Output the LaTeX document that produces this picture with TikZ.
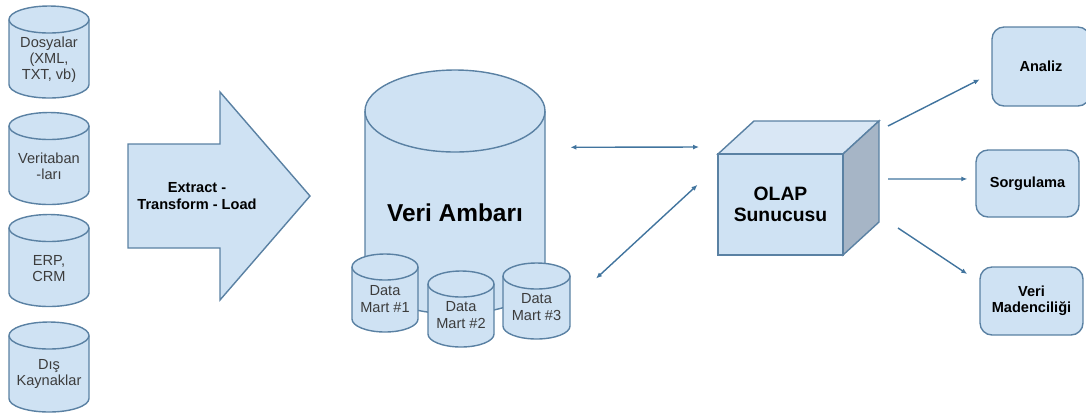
\documentclass[tikz,border=0pt]{standalone}
\usepackage{fontspec}
\setmainfont{Liberation Sans}
\usetikzlibrary{positioning, arrows.meta}
\definecolor{box_fill}{HTML}{CFE2F3}
\definecolor{top_fill}{HTML}{D9E7F5}
\definecolor{side_fill}{HTML}{A6B5C6}
\definecolor{box_line}{HTML}{5A81A3}
\definecolor{flow_line}{HTML}{41749E}
\definecolor{soft_text}{HTML}{3C3C3C}

% name, centre x, centre y, x radius, y radius, half height, text shift, text style, text
\newcommand{\dbcyl}[9]{
  \begin{scope}[shift={(#2, #3)}]
    \draw[shape_line] (-#4, -#6+#5) -- (-#4, #6-#5) arc (180:0:#4 and #5) -- (#4, -#6+#5) arc (0:-180:#4 and #5) -- cycle;
    \draw[draw=box_line, line width=0.8pt] (-#4, -#6+#5) arc (180:0:#4 and #5);
    \node[minimum width=2*#4*0.02cm, minimum height=2*#6*0.02cm, inner sep=0, align=center, #8] (#1) at (0, #7) {#9};
  \end{scope}
}

\begin{document}
\begin{tikzpicture}[
    x=0.02cm, y=-0.02cm,
    % Styles for shapes and text
    shape_line/.style = {
        draw=box_line,
        fill=box_fill,
        line width=0.8pt
    },
    plain_text/.style = {
        text=soft_text,
        font=\fontsize{8.3}{9.2}\selectfont
    },
    bold_text/.style = {
        font=\fontsize{8.3}{9.2}\selectfont\bfseries
    },
    tool_box/.style = {
        shape_line,
        rectangle,
        rounded corners=0.24cm,
        inner sep=0,
        align=center,
        bold_text
    },
    flow/.style = {
        draw=flow_line,
        line width=0.8pt,
        -{Latex[length=1.2mm,width=1mm]}
    },
    both_flow/.style = {
        flow,
        {Latex[length=1.2mm,width=1mm]}-{Latex[length=1.2mm,width=1mm]}
    }
]

\clip (0, 0) rectangle (1086, 414);

% 1. Data sources
\dbcyl{dosyalar}{49}{52}{40}{13.5}{46}{8}{plain_text}{Dosyalar\\(XML,\\TXT, vb)}
\dbcyl{veritaban}{49}{158.5}{40}{13.5}{46}{8}{plain_text}{Veritaban\\-ları}
\dbcyl{erp}{49}{260.5}{40}{13.5}{46}{8}{plain_text}{ERP,\\CRM}
\dbcyl{dis}{49}{367}{40}{13.5}{45}{7}{plain_text}{Dış\\Kaynaklar}

% 2. ETL arrow
\draw[shape_line] (128, 144) -- (220, 144) -- (220, 92) -- (310, 196) -- (220, 300) -- (220, 248) -- (128, 248) -- cycle;
\node[align=center, bold_text] (etl) at (197, 196) {Extract -\\Transform - Load};

% 3. Warehouse and marts
\dbcyl{ambar}{455}{192}{90}{41}{122}{21}{font=\fontsize{13.9}{16}\selectfont\bfseries}{Veri Ambarı}
\dbcyl{mart_one}{385}{293}{33}{13}{39}{6}{plain_text}{Data\\Mart \#1}
\dbcyl{mart_two}{461}{309}{33}{13}{38}{6}{plain_text}{Data\\Mart \#2}
\dbcyl{mart_three}{536.5}{301}{33.5}{13}{38}{6}{plain_text}{Data\\Mart \#3}

% 4. OLAP cube
\draw[shape_line, fill=top_fill] (718, 154) -- (754, 121) -- (879, 121) -- (843, 154) -- cycle;
\draw[shape_line, fill=side_fill] (843, 154) -- (879, 121) -- (879, 222) -- (843, 255) -- cycle;
\node[shape_line, minimum width=2.5cm, minimum height=2.02cm, inner sep=0, align=center, font=\fontsize{11}{12}\selectfont\bfseries] (olap) at (780.5, 204.5) {OLAP\\Sunucusu};

% 5. Tools
\node[tool_box, minimum width=1.96cm, minimum height=1.58cm] (analiz) at (1041, 66.5) {Analiz};
\node[tool_box, minimum width=2.06cm, minimum height=1.34cm] (sorgulama) at (1027.5, 183.5) {Sorgulama};
\node[tool_box, minimum width=2.06cm, minimum height=1.36cm] (madencilik) at (1031.5, 301) {Veri\\Madenciliği};

% 6. Arrows
\coordinate (olap_in) at (699, 147);
\coordinate (olap_out_top) at (888, 126);
\coordinate (olap_out_mid) at (888, 179);
\coordinate (olap_out_low) at (898, 228);

\draw[both_flow, shorten <=0.5cm] (ambar.36.7) -- (olap_in);
\draw[both_flow, shorten <=0.7cm, shorten >=0.54cm] (mart_three.8) -- (olap.149);
\draw[flow, shorten >=0.26cm] (olap_out_top) -- (analiz.188);
\draw[flow, shorten >=0.16cm] (olap_out_mid) -- (sorgulama.175);
\draw[flow, shorten >=0.29cm] (olap_out_low) -- (madencilik.160);

\end{tikzpicture}
\end{document}
